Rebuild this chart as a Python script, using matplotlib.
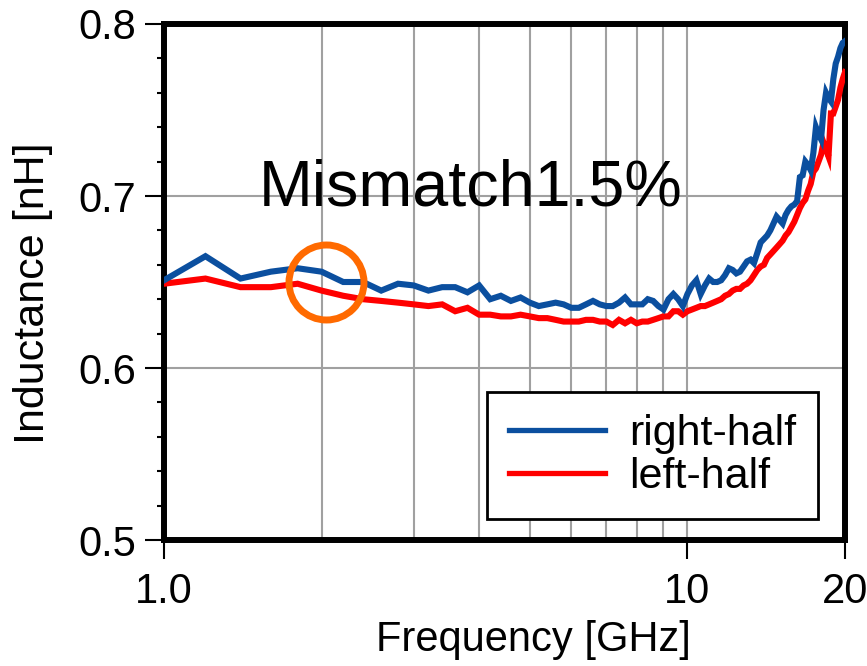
import matplotlib
matplotlib.use("Agg")
import matplotlib.pyplot as plt
from matplotlib.ticker import FixedLocator, NullFormatter, MultipleLocator

plt.rcParams['font.family'] = ['Liberation Sans', 'DejaVu Sans']

freq_ghz = [1.0, 1.2, 1.4, 1.6, 1.8, 2.0, 2.2, 2.4, 2.6, 2.8,
            3.0, 3.2, 3.4, 3.6, 3.8, 4.0, 4.2, 4.4, 4.6, 4.8,
            5.0, 5.2, 5.4, 5.6, 5.8, 6.0, 6.2, 6.4, 6.6, 6.8,
            7.0, 7.2, 7.4, 7.6, 7.8, 8.0, 8.2, 8.4, 8.6, 8.8,
            9.0, 9.2, 9.4, 9.6, 9.8, 10.0, 10.2, 10.4, 10.6, 10.8,
            11.0, 11.2, 11.4, 11.6, 11.8, 12.0, 12.2, 12.4, 12.6, 12.8,
            13.0, 13.2, 13.4, 13.6, 13.8, 14.0, 14.2, 14.4, 14.6, 14.8,
            15.0, 15.2, 15.4, 15.6, 15.8, 16.0, 16.2, 16.4, 16.6, 16.8,
            17.0, 17.2, 17.4, 17.6, 17.8, 18.0, 18.2, 18.4, 18.6, 18.8,
            19.0, 19.2, 19.4, 19.6, 19.8, 20.0]

right_half = [0.651, 0.665, 0.652, 0.656, 0.658, 0.656, 0.650, 0.650, 0.645, 0.649,
              0.648, 0.645, 0.647, 0.647, 0.644, 0.648, 0.640, 0.642, 0.639, 0.641,
              0.638, 0.636, 0.637, 0.638, 0.637, 0.635, 0.635, 0.637, 0.639, 0.637,
              0.636, 0.636, 0.638, 0.641, 0.637, 0.637, 0.637, 0.640, 0.639, 0.636,
              0.634, 0.640, 0.643, 0.640, 0.636, 0.643, 0.648, 0.651, 0.643, 0.648,
              0.652, 0.650, 0.650, 0.651, 0.654, 0.658, 0.657, 0.655, 0.656, 0.659,
              0.662, 0.663, 0.661, 0.667, 0.673, 0.675, 0.677, 0.680, 0.684, 0.688,
              0.686, 0.684, 0.689, 0.692, 0.694, 0.695, 0.697, 0.711, 0.712, 0.720,
              0.718, 0.715, 0.725, 0.740, 0.736, 0.733, 0.750, 0.760, 0.757, 0.755,
              0.768, 0.777, 0.781, 0.786, 0.789, 0.790]

left_half = [0.649, 0.652, 0.647, 0.647, 0.649, 0.645, 0.642, 0.640, 0.639, 0.638,
             0.637, 0.636, 0.637, 0.633, 0.635, 0.631, 0.631, 0.630, 0.630, 0.631,
             0.630, 0.629, 0.629, 0.628, 0.627, 0.627, 0.627, 0.628, 0.628, 0.627,
             0.627, 0.625, 0.628, 0.626, 0.628, 0.626, 0.627, 0.627, 0.628, 0.629,
             0.630, 0.630, 0.633, 0.633, 0.631, 0.633, 0.634, 0.635, 0.636, 0.636,
             0.637, 0.638, 0.639, 0.640, 0.642, 0.643, 0.645, 0.646, 0.646, 0.648,
             0.649, 0.651, 0.654, 0.657, 0.659, 0.660, 0.664, 0.666, 0.668, 0.670,
             0.672, 0.674, 0.677, 0.679, 0.682, 0.685, 0.689, 0.693, 0.696, 0.698,
             0.703, 0.707, 0.714, 0.716, 0.720, 0.724, 0.731, 0.727, 0.723, 0.748,
             0.748, 0.752, 0.756, 0.763, 0.768, 0.772]

x_major_ticks = [1.0, 10, 20]
x_major_labels = ["1.0", "10", "20"]
x_grid_minor = [2, 3, 4, 5, 6, 7, 8, 9]
y_ticks = [0.5, 0.6, 0.7, 0.8]
y_labels = ["0.5", "0.6", "0.7", "0.8"]

FS = 30
fig = plt.figure(figsize=(8.67, 6.66), dpi=100)
ax = fig.add_axes([164/867, 1-540/666, (845-164)/867, (540-24)/666])

ax.set_xscale('log')
ax.set_xlim(1.0, 20)
ax.set_ylim(0.5, 0.8)

ax.plot(freq_ghz, right_half, color='#0B4F9F', lw=4.4, label='right-half', zorder=3,
        solid_joinstyle='miter')
ax.plot(freq_ghz, left_half, color='#FF0000', lw=4.4, label='left-half', zorder=2.9,
        solid_joinstyle='miter')

# highlight circle
ax.plot([2.04], [0.650], 'o', ms=54, mfc='none', mec='#FF6A00', mew=5.0, zorder=4)

ax.text(471/867, 1-188/666, 'Mismatch1.5%', transform=fig.transFigure,
        fontsize=46.5, ha='center', va='center')

ax.xaxis.set_major_locator(FixedLocator(x_major_ticks))
ax.set_xticklabels(x_major_labels)
ax.xaxis.set_minor_locator(FixedLocator(x_grid_minor))
ax.xaxis.set_minor_formatter(NullFormatter())
ax.set_yticks(y_ticks)
ax.set_yticklabels(y_labels)
ax.yaxis.set_minor_locator(MultipleLocator(0.02))

ax.tick_params(axis='x', which='major', direction='out', length=14, width=1.5,
               labelsize=FS, pad=9)
ax.tick_params(axis='x', which='minor', length=0)
ax.tick_params(axis='y', which='major', direction='out', length=14, width=1.5,
               labelsize=FS, pad=6)
ax.tick_params(axis='y', which='minor', direction='out', length=5, width=1.5)

ax.grid(True, which='major', axis='y', color='#A0A0A0', lw=1.5, zorder=0)
ax.grid(True, which='both', axis='x', color='#A0A0A0', lw=1.5, zorder=0)
ax.set_axisbelow(True)

for sp in ax.spines.values():
    sp.set_linewidth(4.3)
    sp.set_color('black')

leg = ax.legend(loc='lower right', bbox_to_anchor=(0.960, 0.041), fontsize=31,
                frameon=True, fancybox=False, edgecolor='black', framealpha=1,
                handlelength=2.25, handletextpad=0.55, labelspacing=0.08,
                borderpad=0.5, borderaxespad=0)
leg.get_frame().set_linewidth(2.0)
for line in leg.get_lines():
    line.set_linewidth(3.8)

fig.text(533/867, 1-640/666, 'Frequency [GHz]', fontsize=FS, ha='center', va='center')
fig.text(33/867, 1-293/666, 'Inductance [nH]', fontsize=31, ha='center', va='center',
         rotation=90)

fig.savefig('out.png', dpi=100)
